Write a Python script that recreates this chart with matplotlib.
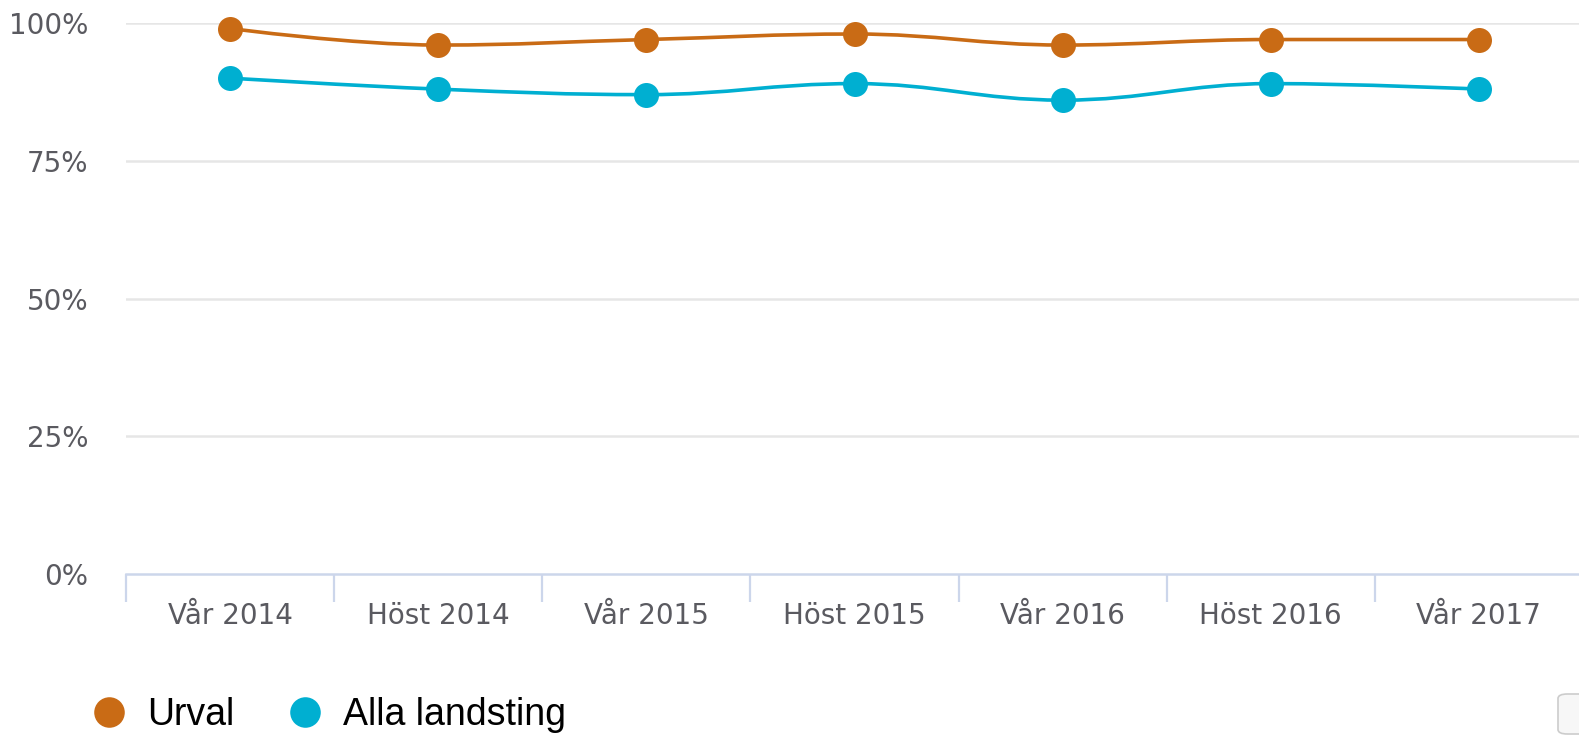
import numpy as np
import matplotlib.pyplot as plt
from matplotlib.path import Path
from matplotlib.patches import PathPatch, FancyBboxPatch
from matplotlib.lines import Line2D

# --- данные ---
categories = ["Vår 2014", "Höst 2014", "Vår 2015", "Höst 2015",
              "Vår 2016", "Höst 2016", "Vår 2017"]
urval = [99, 96, 97, 98, 96, 97, 97]
alla_landsting = [90, 88, 87, 89, 86, 89, 88]
y_ticks = [0, 25, 50, 75, 100]
y_tick_labels = ["0%", "25%", "50%", "75%", "100%"]

ORANGE = "#c96b15"
CYAN = "#00afd1"
GRID = "#e6e6e6"
AXIS = "#ccd6eb"
TEXT = "#5a5a60"


def spline_path(xs, ys, smoothing=1.5):
    """Kurva i stil med Highcharts 'spline'."""
    n = len(xs)
    left = [None] * n
    right = [None] * n
    denom = smoothing + 1
    for i in range(1, n - 1):
        lcx = (smoothing * xs[i] + xs[i - 1]) / denom
        lcy = (smoothing * ys[i] + ys[i - 1]) / denom
        rcx = (smoothing * xs[i] + xs[i + 1]) / denom
        rcy = (smoothing * ys[i] + ys[i + 1]) / denom
        corr = ((rcy - lcy) * (rcx - xs[i])) / (rcx - lcx) + ys[i] - rcy
        lcy += corr
        rcy += corr
        if lcy > ys[i - 1] and lcy > ys[i]:
            lcy = max(ys[i - 1], ys[i])
            rcy = 2 * ys[i] - lcy
        elif lcy < ys[i - 1] and lcy < ys[i]:
            lcy = min(ys[i - 1], ys[i])
            rcy = 2 * ys[i] - lcy
        if rcy > ys[i + 1] and rcy > ys[i]:
            rcy = max(ys[i + 1], ys[i])
            lcy = 2 * ys[i] - rcy
        elif rcy < ys[i + 1] and rcy < ys[i]:
            rcy = min(ys[i + 1], ys[i])
            lcy = 2 * ys[i] - rcy
        left[i] = (lcx, lcy)
        right[i] = (rcx, rcy)

    verts = [(xs[0], ys[0])]
    codes = [Path.MOVETO]
    for i in range(1, n):
        c1 = right[i - 1] if right[i - 1] else (xs[i - 1], ys[i - 1])
        c2 = left[i] if left[i] else (xs[i], ys[i])
        verts += [c1, c2, (xs[i], ys[i])]
        codes += [Path.CURVE4] * 3
    return Path(verts, codes)


W, H = 1579, 738
fig = plt.figure(figsize=(W / 100, H / 100), dpi=100)
# plottytan går lite utanför högerkanten, som i originalet
ax = fig.add_axes([126 / W, (H - 574) / H, (1583 - 126) / W, (574 - 23) / H])

x = np.arange(len(categories))
for vals, col in [(alla_landsting, CYAN), (urval, ORANGE)]:
    ax.add_patch(PathPatch(spline_path(x, vals), facecolor="none",
                           edgecolor=col, lw=2.6, zorder=3, clip_on=False))
    ax.plot(x, vals, "o", color=col, ms=18, mew=0, zorder=4, clip_on=False)

ax.set_xlim(-0.5, len(categories) - 0.5)
ax.set_ylim(0, 100)

ax.set_yticks(y_ticks)
ax.set_yticklabels(y_tick_labels)
ax.set_xticks(x)
ax.set_xticklabels(categories)
ax.set_xticks(np.arange(len(categories) + 1) - 0.5, minor=True)

ax.tick_params(axis="y", length=0, pad=27, labelsize=20, labelcolor=TEXT)
ax.tick_params(axis="x", which="major", length=0, pad=20, labelsize=20,
               labelcolor=TEXT)
ax.tick_params(axis="x", which="minor", length=20, width=1.6, color=AXIS,
               direction="out")

for yv in y_ticks[1:]:
    ax.axhline(yv, color=GRID, lw=1.8, zorder=1)

for s in ["top", "right", "left"]:
    ax.spines[s].set_visible(False)
ax.spines["bottom"].set_color(AXIS)
ax.spines["bottom"].set_linewidth(1.8)

for lab in ax.get_xticklabels() + ax.get_yticklabels():
    lab.set_family("DejaVu Sans")

handles = [
    Line2D([], [], marker="o", ls="none", color=ORANGE, ms=22, mew=0, label="Urval"),
    Line2D([], [], marker="o", ls="none", color=CYAN, ms=22, mew=0, label="Alla landsting"),
]
fig.legend(handles=handles, loc="center left", bbox_to_anchor=(53 / W, 23 / H),
           ncol=2, frameon=False, handletextpad=0.4, columnspacing=1.3,
           handlelength=1.2, prop={"family": "Liberation Sans", "size": 27})

# exportknapp nere till höger (avklippt)
fig.patches.append(FancyBboxPatch((1558 / W, 4 / H), 60 / W, 40 / H,
                                  boxstyle="round,pad=0,rounding_size=0.006",
                                  transform=fig.transFigure, facecolor="#f7f7f7",
                                  edgecolor="#cccccc", lw=1.2))

fig.savefig("out.png", dpi=100)
